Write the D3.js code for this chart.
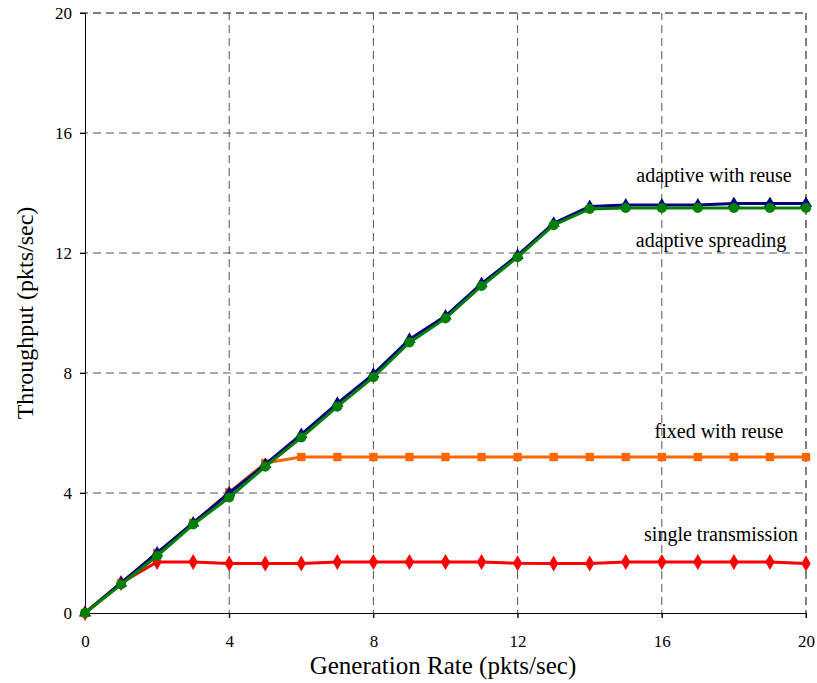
<!DOCTYPE html>
<html><head><meta charset="utf-8">
<script src="https://cdn.jsdelivr.net/npm/d3@7"></script>
<style>body{margin:0;background:#fff}svg{display:block}</style>
</head><body>
<svg id="c" width="817" height="683"></svg>
<script>
const rates = d3.range(0, 21);
const adaptiveReuse = [0,1,2,3,4,4.95,5.95,6.99,7.96,9.12,9.9,10.98,11.92,12.99,13.55,13.6,13.6,13.6,13.65,13.65,13.65];
const adaptiveSpreading = [0,0.95,1.9,2.95,3.85,4.88,5.85,6.88,7.86,9.02,9.82,10.9,11.86,12.93,13.47,13.5,13.5,13.5,13.5,13.5,13.5];
const fixedReuse = [0,1,2,3,4.02,5.0,5.2,5.2,5.2,5.2,5.2,5.2,5.2,5.2,5.2,5.2,5.2,5.2,5.2,5.2,5.2];
const singleTx = [0,1,1.7,1.7,1.65,1.65,1.65,1.7,1.7,1.7,1.7,1.7,1.66,1.65,1.65,1.7,1.7,1.7,1.7,1.7,1.65];
const xTicks = [0,4,8,12,16,20];
const yTicks = [0,4,8,12,16,20];
const seriesNames = ["single transmission","fixed with reuse","adaptive with reuse","adaptive spreading"];

const svg = d3.select("#c");
const x = d3.scaleLinear().domain([0,20]).range([85,806]);
const y = d3.scaleLinear().domain([0,20]).range([613,13]);
const font = "'Liberation Serif','Times New Roman',serif";

// grid
const g = svg.append("g");
g.selectAll(".vg").data(xTicks.filter(d=>d>0)).enter().append("line")
  .attr("x1",d=>x(d)).attr("x2",d=>x(d)).attr("y1",y(0)+5).attr("y2",y(20))
  .attr("stroke",d=>d===20?"#000":"#555").attr("stroke-width",1).attr("stroke-dasharray","8,5");
g.selectAll(".hg").data(yTicks.filter(d=>d>0)).enter().append("line")
  .attr("x1",x(0)-5).attr("x2",x(20)).attr("y1",d=>y(d)).attr("y2",d=>y(d))
  .attr("stroke",d=>d===20?"#000":"#555").attr("stroke-width",1).attr("stroke-dasharray","8,5");

// axes
const xAxis = svg.append("g").attr("transform",`translate(0,${y(0)})`)
  .call(d3.axisBottom(x).tickValues(xTicks).tickSize(5).tickPadding(17));
const yAxis = svg.append("g").attr("transform",`translate(${x(0)},0)`)
  .call(d3.axisLeft(y).tickValues(yTicks).tickSize(5).tickPadding(8));
[xAxis,yAxis].forEach(a=>{
  a.select(".domain").attr("stroke","#000");
  a.selectAll(".tick line").attr("stroke","#000");
  a.selectAll("text").attr("font-family",font).attr("font-size",17).attr("fill","#000");
});

// axis titles
svg.append("text").attr("x",443).attr("y",674).attr("text-anchor","middle")
  .attr("font-family",font).attr("font-size",25).text("Generation Rate (pkts/sec)");
svg.append("text").attr("transform","translate(33,313) rotate(-90)").attr("text-anchor","middle")
  .attr("font-family",font).attr("font-size",24).text("Throughput (pkts/sec)");

const line = d3.line().x((d,i)=>x(rates[i])).y(d=>y(d));

function drawSeries(data, color, shape, size){
  svg.append("path").datum(data).attr("d",line).attr("fill","none")
    .attr("stroke",color).attr("stroke-width",3);
  svg.append("g").selectAll("path").data(data).enter().append("path")
    .attr("transform",(d,i)=>`translate(${x(rates[i])},${y(d)})`)
    .attr("d",d3.symbol().type(shape).size(size)).attr("fill",color);
}
drawSeries(singleTx,"#ff0000",d3.symbolDiamond,75);
drawSeries(fixedReuse,"#ff6600",d3.symbolSquare,70);
drawSeries(adaptiveReuse,"#000080",d3.symbolTriangle,65);
drawSeries(adaptiveSpreading,"#008000",d3.symbolCircle,80);

// labels
const labels = [
  {t:seriesNames[2], x:714, y:182},
  {t:seriesNames[3], x:711, y:247},
  {t:seriesNames[1], x:719, y:438},
  {t:seriesNames[0], x:721, y:541}
];
svg.append("g").selectAll("text").data(labels).enter().append("text")
  .attr("x",d=>d.x).attr("y",d=>d.y).attr("text-anchor","middle")
  .attr("font-family",font).attr("font-size",20).attr("fill","#000").text(d=>d.t);
</script>
</body></html>
